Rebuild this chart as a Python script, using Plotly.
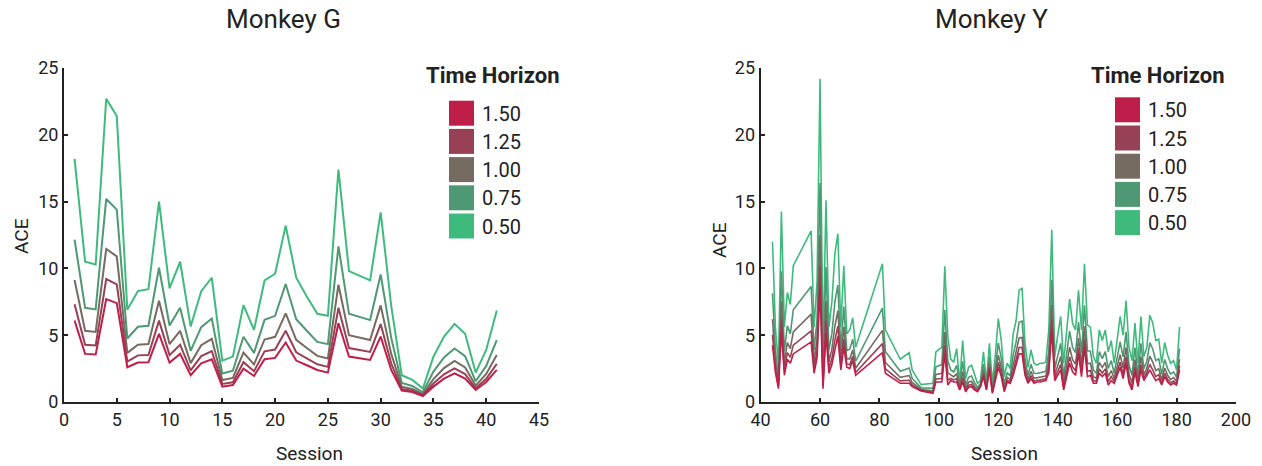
import plotly.graph_objects as go

# ---------------- Data ----------------
horizons = ["1.50", "1.25", "1.00", "0.75", "0.50"]
colors = {"1.50": "#BE1E48", "1.25": "#984056", "1.00": "#756B60",
          "0.75": "#4E9873", "0.50": "#3EBB7C"}

# Monkey G
g_sessions = list(range(1, 42))
g_050 = [18.2, 10.5, 10.3, 22.7, 21.4, 6.9, 8.3, 8.45, 15.0, 8.5, 10.5, 5.65, 8.3, 9.3, 3.1,
         3.4, 7.25, 5.4, 9.1, 9.6, 13.2, 9.3, 7.9, 6.6, 6.45, 17.4, 9.8, 9.45, 9.1, 14.2,
         7.2, 2.0, 1.65, 1.0, 3.4, 4.9, 5.85, 5.1, 2.2, 3.9, 6.85]
g_075 = [12.15, 7.05, 6.93, 15.2, 14.4, 4.75, 5.63, 5.71, 10.05, 5.73, 7.05, 3.83, 5.6, 6.25, 2.13,
         2.34, 4.88, 3.68, 6.15, 6.45, 8.83, 6.2, 5.33, 4.5, 4.33, 11.65, 6.6, 6.38, 6.13, 9.55,
         4.8, 1.43, 1.2, 0.73, 2.28, 3.33, 4.0, 3.43, 1.55, 2.7, 4.63]
g_100 = [9.13, 5.33, 5.24, 11.45, 10.9, 3.68, 4.29, 4.34, 7.58, 4.34, 5.33, 2.91, 4.25, 4.73, 1.64,
         1.8, 3.69, 2.81, 4.68, 4.88, 6.64, 4.65, 4.04, 3.45, 3.26, 8.78, 5.0, 4.84, 4.64, 7.23,
         3.6, 1.14, 0.98, 0.59, 1.71, 2.54, 3.08, 2.59, 1.23, 2.1, 3.51]
g_125 = [7.31, 4.29, 4.23, 9.2, 8.8, 3.03, 3.49, 3.52, 6.09, 3.51, 4.29, 2.37, 3.44, 3.81, 1.35,
         1.48, 2.98, 2.3, 3.79, 3.93, 5.33, 3.72, 3.27, 2.82, 2.63, 7.05, 4.04, 3.92, 3.75, 5.83,
         2.88, 0.97, 0.84, 0.51, 1.38, 2.07, 2.52, 2.09, 1.03, 1.74, 2.85]
g_150 = [6.1, 3.6, 3.55, 7.7, 7.4, 2.6, 2.95, 2.97, 5.1, 2.95, 3.6, 2.0, 2.9, 3.2, 1.15,
         1.27, 2.5, 1.95, 3.2, 3.3, 4.45, 3.1, 2.75, 2.4, 2.2, 5.9, 3.4, 3.3, 3.15, 4.9,
         2.4, 0.85, 0.75, 0.45, 1.15, 1.75, 2.15, 1.75, 0.9, 1.5, 2.4]

# Monkey Y
y_sessions = [44, 45, 46, 47, 48, 49, 50, 51, 57, 58, 59, 60, 61, 62, 63, 64, 65, 66, 67, 68,
              69, 70, 71, 72, 81, 82, 87, 90, 91, 94, 98, 99, 101, 102, 103, 104, 105, 106, 107, 108,
              109, 110, 111, 112, 113, 114, 115, 116, 117, 118, 119, 120, 121, 122, 123, 124, 125, 126, 127, 128,
              129, 130, 131, 132, 133, 134, 135, 136, 137, 138, 139, 140, 141, 142, 143, 144, 145, 146, 147, 148,
              149, 150, 151, 152, 153, 154, 155, 156, 157, 158, 159, 160, 161, 162, 163, 164, 165, 166, 167, 168,
              169, 170, 171, 172, 173, 174, 175, 176, 177, 178, 179, 180, 181]
y_050 = [12.0, 5.5, 2.8, 14.25, 5.6, 8.2, 7.3, 10.2, 12.8, 5.6, 9.0, 24.2, 3.5, 15.1, 5.6, 7.5, 11.1, 12.6, 5.6, 10.2,
         5.1, 5.4, 6.3, 4.1, 10.35, 5.4, 3.2, 3.7, 2.4, 1.3, 1.4, 3.75, 4.1, 10.15, 4.9, 3.2, 3.0, 4.0, 1.4, 4.6,
         1.75, 2.6, 2.75, 2.0, 1.4, 1.6, 3.75, 1.5, 4.4, 1.4, 3.5, 6.25, 4.6, 1.9, 2.9, 2.5, 5.1, 6.1, 8.36, 8.5,
         4.4, 2.6, 3.9, 2.9, 2.76, 2.9, 2.9, 3.0, 5.4, 12.9, 3.4, 5.0, 6.4, 2.9, 5.1, 7.7, 5.9, 5.4, 8.36, 5.4,
         10.35, 5.75, 5.6, 3.4, 2.9, 5.4, 4.6, 5.4, 3.75, 4.6, 2.9, 4.5, 6.4, 5.0, 7.6, 4.1, 3.1, 5.9, 2.9, 6.4,
         3.4, 4.1, 6.5, 5.9, 4.6, 4.7, 2.9, 4.45, 3.5, 2.9, 3.1, 2.4, 5.6]
y_075 = [8.13, 3.85, 1.9, 9.78, 3.8, 5.7, 5.1, 6.9, 8.65, 3.88, 6.15, 16.4, 2.25, 10.1, 3.88, 5.15, 7.5, 8.75, 4.0, 7.15,
         3.85, 3.95, 4.7, 3.05, 7.03, 3.78, 2.3, 2.55, 1.78, 1.06, 1.03, 2.63, 2.8, 6.88, 3.09, 2.4, 2.25, 2.75, 1.15, 3.05,
         1.26, 1.85, 1.95, 1.45, 1.09, 1.38, 2.83, 1.2, 3.4, 1.03, 2.55, 4.43, 3.25, 1.34, 2.2, 1.95, 3.55, 4.5, 5.98, 6.05,
         3.2, 2.0, 2.83, 2.15, 2.13, 2.2, 2.23, 2.3, 3.8, 9.15, 2.5, 3.5, 4.4, 1.9, 3.5, 5.3, 4.08, 3.7, 5.98, 3.65,
         7.23, 3.83, 3.8, 2.4, 2.15, 3.78, 3.25, 3.78, 2.51, 3.1, 2.15, 3.25, 4.5, 3.38, 5.25, 2.75, 2.0, 4.08, 2.03, 4.4,
         2.5, 3.05, 4.45, 3.95, 3.1, 3.23, 2.09, 3.18, 2.5, 2.09, 2.25, 1.84, 4.0]
y_100 = [6.19, 3.03, 1.45, 7.54, 2.9, 4.45, 4.0, 5.25, 6.58, 3.01, 4.73, 12.5, 1.63, 7.6, 3.01, 3.98, 5.7, 6.83, 3.2, 5.63,
         3.23, 3.23, 3.9, 2.53, 5.36, 2.96, 1.85, 1.98, 1.46, 0.94, 0.84, 2.06, 2.15, 5.24, 2.18, 2.0, 1.88, 2.13, 1.03, 2.28,
         1.02, 1.48, 1.55, 1.18, 0.93, 1.26, 2.36, 1.05, 2.9, 0.84, 2.08, 3.51, 2.58, 1.05, 1.85, 1.68, 2.78, 3.7, 4.79, 4.83,
         2.6, 1.7, 2.29, 1.78, 1.82, 1.85, 1.89, 1.95, 3.0, 7.28, 2.05, 2.75, 3.4, 1.4, 2.7, 4.1, 3.17, 2.85, 4.79, 2.78,
         5.66, 2.86, 2.9, 1.9, 1.78, 2.96, 2.58, 2.96, 1.89, 2.35, 1.78, 2.63, 3.55, 2.56, 4.08, 2.08, 1.45, 3.17, 1.59, 3.4,
         2.05, 2.53, 3.43, 2.98, 2.35, 2.49, 1.68, 2.54, 2.0, 1.68, 1.83, 1.55, 3.2]
y_125 = [5.03, 2.53, 1.18, 6.2, 2.36, 3.7, 3.34, 4.26, 5.33, 2.5, 3.87, 10.16, 1.25, 6.1, 2.5, 3.27, 4.62, 5.67, 2.72, 4.71,
         2.85, 2.79, 3.42, 2.21, 4.37, 2.48, 1.58, 1.63, 1.28, 0.87, 0.73, 1.73, 1.76, 4.26, 1.63, 1.76, 1.65, 1.75, 0.95, 1.81,
         0.87, 1.25, 1.31, 1.01, 0.83, 1.2, 2.09, 0.96, 2.6, 0.73, 1.79, 2.97, 2.17, 0.88, 1.64, 1.51, 2.31, 3.22, 4.08, 4.09,
         2.24, 1.52, 1.97, 1.55, 1.63, 1.64, 1.69, 1.74, 2.52, 6.15, 1.78, 2.3, 2.8, 1.1, 2.22, 3.38, 2.62, 2.34, 4.08, 2.25,
         4.73, 2.29, 2.36, 1.6, 1.55, 2.48, 2.17, 2.48, 1.52, 1.9, 1.55, 2.25, 2.98, 2.08, 3.37, 1.67, 1.12, 2.62, 1.33, 2.8,
         1.78, 2.21, 2.81, 2.39, 1.9, 2.05, 1.43, 2.16, 1.7, 1.43, 1.57, 1.38, 2.72]
y_150 = [4.25, 2.2, 1.0, 5.3, 2.0, 3.2, 2.9, 3.6, 4.5, 2.15, 3.3, 8.6, 1.0, 5.1, 2.15, 2.8, 3.9, 4.9, 2.4, 4.1,
         2.6, 2.5, 3.1, 2.0, 3.7, 2.15, 1.4, 1.4, 1.15, 0.82, 0.65, 1.5, 1.5, 3.6, 1.27, 1.6, 1.5, 1.5, 0.9, 1.5,
         0.77, 1.1, 1.15, 0.9, 0.77, 1.15, 1.9, 0.9, 2.4, 0.65, 1.6, 2.6, 1.9, 0.77, 1.5, 1.4, 2.0, 2.9, 3.6, 3.6,
         2.0, 1.4, 1.75, 1.4, 1.5, 1.5, 1.55, 1.6, 2.2, 5.4, 1.6, 2.0, 2.4, 0.9, 1.9, 2.9, 2.26, 2.0, 3.6, 1.9,
         4.1, 1.9, 2.0, 1.4, 1.4, 2.15, 1.9, 2.15, 1.27, 1.6, 1.4, 2.0, 2.6, 1.75, 2.9, 1.4, 0.9, 2.26, 1.15, 2.4,
         1.6, 2.0, 2.4, 2.0, 1.6, 1.75, 1.27, 1.9, 1.5, 1.27, 1.4, 1.27, 2.4]

g_series = {"0.50": g_050, "0.75": g_075, "1.00": g_100, "1.25": g_125, "1.50": g_150}
y_series = {"0.50": y_050, "0.75": y_075, "1.00": y_100, "1.25": y_125, "1.50": y_150}

y_ticks = [0, 5, 10, 15, 20, 25]
g_xticks = [0, 5, 10, 15, 20, 25, 30, 35, 40, 45]
y_xticks = [40, 60, 80, 100, 120, 140, 160, 180, 200]

# ---------------- Figure ----------------
W, H = 1262, 466
FONT = "Roboto"
TXT = "#222222"

def px(x):
    return x / W

def py(y):
    return 1 - y / H

fig = go.Figure()
draw_order = ["0.50", "0.75", "1.00", "1.25", "1.50"]
for h in draw_order:
    fig.add_trace(go.Scatter(x=g_sessions, y=g_series[h], mode="lines",
                             line=dict(color=colors[h], width=2), showlegend=False,
                             xaxis="x", yaxis="y", hoverinfo="skip"))
for h in draw_order:
    fig.add_trace(go.Scatter(x=y_sessions, y=y_series[h], mode="lines",
                             line=dict(color=colors[h], width=1.6), showlegend=False,
                             xaxis="x2", yaxis="y2", hoverinfo="skip"))

axis_common = dict(showgrid=False, zeroline=False, showline=True, linecolor=TXT, linewidth=2,
                   ticks="inside", ticklen=4, tickwidth=2, tickcolor=TXT,
                   tickfont=dict(family=FONT, size=18, color=TXT))

y_top, y_bot = 68, 402
fig.update_layout(
    width=W, height=H,
    margin=dict(l=0, r=0, t=0, b=0, autoexpand=False),
    paper_bgcolor="white", plot_bgcolor="white",
    xaxis=dict(domain=[px(64), px(539)], range=[0, 45], tickvals=g_xticks, anchor="y", **axis_common),
    yaxis=dict(domain=[py(y_bot), py(y_top)], range=[0, 25], tickvals=y_ticks, anchor="x", **axis_common),
    xaxis2=dict(domain=[px(760.6), px(1236)], range=[40, 200], tickvals=y_xticks, anchor="y2", **axis_common),
    yaxis2=dict(domain=[py(y_bot), py(y_top)], range=[0, 25], tickvals=y_ticks, anchor="x2", **axis_common),
)

ann = []
ann.append(dict(text="Monkey G", x=px(283), y=py(19), xref="paper", yref="paper", showarrow=False,
                font=dict(family=FONT, size=26, color=TXT), xanchor="center", yanchor="middle"))
ann.append(dict(text="Monkey Y", x=px(991), y=py(19), xref="paper", yref="paper", showarrow=False,
                font=dict(family=FONT, size=26, color=TXT), xanchor="center", yanchor="middle"))
for xc in (309, 1004):
    ann.append(dict(text="Session", x=px(xc), y=py(453), xref="paper", yref="paper", showarrow=False,
                    font=dict(family=FONT, size=19, color=TXT), xanchor="center", yanchor="middle"))
for xc, yc in ((21, 236), (719, 240)):
    ann.append(dict(text="ACE", x=px(xc), y=py(yc), xref="paper", yref="paper", showarrow=False,
                    textangle=-90, font=dict(family=FONT, size=19, color=TXT),
                    xanchor="center", yanchor="middle"))

shapes = []
legend_specs = [(492, 76, 449, 100.7), (1157, 75, 1115, 97.3)]
for tx, ty, sx, sy in legend_specs:
    ann.append(dict(text="<b>Time Horizon</b>", x=px(tx), y=py(ty), xref="paper", yref="paper",
                    showarrow=False, font=dict(family=FONT, size=22, color=TXT),
                    xanchor="center", yanchor="middle"))
    for i, h in enumerate(horizons):
        y0 = sy + i * 28.2
        shapes.append(dict(type="rect", xref="paper", yref="paper",
                           x0=px(sx), x1=px(sx + 25), y0=py(y0 + 25), y1=py(y0),
                           fillcolor=colors[h], line=dict(width=0)))
        ann.append(dict(text=h, x=px(sx + 31), y=py(y0 + 13), xref="paper", yref="paper",
                        showarrow=False, font=dict(family=FONT, size=20, color=TXT),
                        xanchor="left", yanchor="middle"))

fig.update_layout(annotations=ann, shapes=shapes)
# Remove the default 8px page margin so the figure fills the window exactly.
fig.write_html("out.html", config={"displayModeBar": False},
               post_script="document.body.style.margin='0';document.body.style.overflow='hidden';")
